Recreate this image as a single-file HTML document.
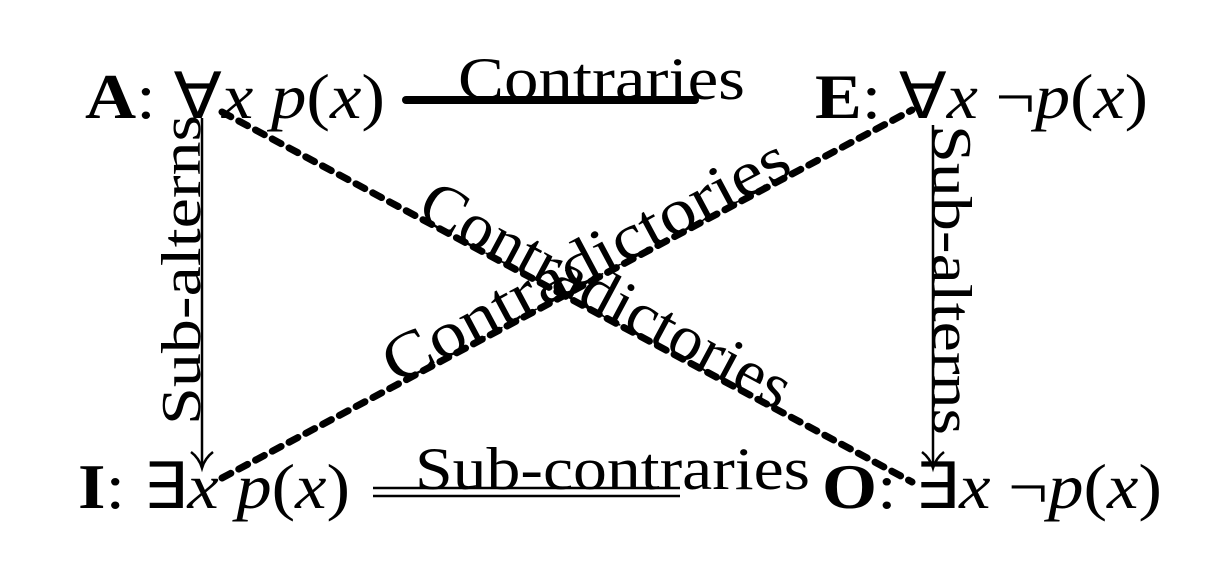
<!DOCTYPE html>
<html><head><meta charset="utf-8"><style>
html,body{margin:0;padding:0;background:#fff;}
svg{display:block;}
text{font-family:"Liberation Serif",serif;fill:#000;}
</style></head><body>
<svg width="1217" height="587" viewBox="0 0 1217 587" xmlns="http://www.w3.org/2000/svg">
<line x1="222" y1="112" x2="912" y2="482" stroke="#000" stroke-width="7" stroke-dasharray="10 9" stroke-linecap="round"/>
<line x1="222" y1="478" x2="912" y2="110" stroke="#000" stroke-width="7" stroke-dasharray="10 9" stroke-linecap="round"/>
<line x1="202" y1="118" x2="202" y2="468" stroke="#000" stroke-width="2.5"/>
<path d="M191 452 Q199 458 202 468 Q205 458 213 452" fill="none" stroke="#000" stroke-width="2.5"/>
<line x1="933" y1="125" x2="933" y2="468" stroke="#000" stroke-width="2.5"/>
<path d="M922 452 Q930 458 933 468 Q936 458 944 452" fill="none" stroke="#000" stroke-width="2.5"/>
<line x1="406" y1="100" x2="695" y2="100" stroke="#000" stroke-width="8" stroke-linecap="round"/>
<line x1="373" y1="488" x2="680" y2="488" stroke="#000" stroke-width="2.5"/>
<line x1="373" y1="496" x2="680" y2="496" stroke="#000" stroke-width="2.5"/>
<text x="85" y="118" font-size="64" textLength="300" lengthAdjust="spacingAndGlyphs"><tspan font-weight="bold">A</tspan>: ∀<tspan font-style="italic">x p</tspan>(<tspan font-style="italic">x</tspan>)</text>
<text x="815" y="118" font-size="64" textLength="333" lengthAdjust="spacingAndGlyphs"><tspan font-weight="bold">E</tspan>: ∀<tspan font-style="italic">x</tspan> ¬<tspan font-style="italic">p</tspan>(<tspan font-style="italic">x</tspan>)</text>
<text x="78" y="508" font-size="64" textLength="272" lengthAdjust="spacingAndGlyphs"><tspan font-weight="bold">I</tspan>: ∃<tspan font-style="italic">x p</tspan>(<tspan font-style="italic">x</tspan>)</text>
<text x="822" y="508" font-size="64" textLength="340" lengthAdjust="spacingAndGlyphs"><tspan font-weight="bold">O</tspan>: ∃<tspan font-style="italic">x</tspan> ¬<tspan font-style="italic">p</tspan>(<tspan font-style="italic">x</tspan>)</text>
<text x="458" y="99" font-size="60" textLength="287" lengthAdjust="spacingAndGlyphs">Contraries</text>
<text x="415" y="489" font-size="60" textLength="395" lengthAdjust="spacingAndGlyphs">Sub-contraries</text>
<text transform="translate(200,425) rotate(-90)" font-size="56" textLength="310" lengthAdjust="spacingAndGlyphs">Sub-alterns</text>
<text transform="translate(933,125) rotate(90)" font-size="56" textLength="310" lengthAdjust="spacingAndGlyphs">Sub-alterns</text>
<text transform="translate(415,216) rotate(28.2)" font-size="64" textLength="412" lengthAdjust="spacingAndGlyphs">Contradictories</text>
<text transform="translate(396,385) rotate(-28.1)" font-size="64" textLength="452" lengthAdjust="spacingAndGlyphs">Contradictories</text>
</svg>
</body></html>
